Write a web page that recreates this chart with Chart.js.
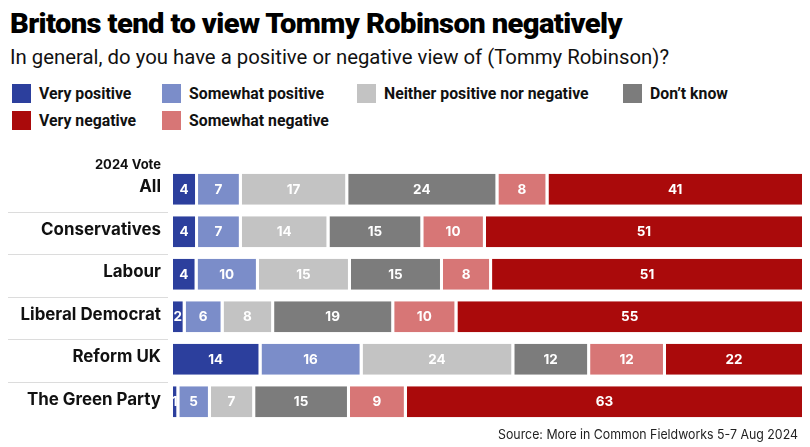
<!DOCTYPE html>
<html>
<head>
<meta charset="utf-8">
<script src="https://cdn.jsdelivr.net/npm/chart.js@4/dist/chart.umd.min.js"></script>
<style>
  html, body { margin: 0; padding: 0; background: #fff; }
  #wrap { position: relative; width: 810px; height: 447px; overflow: hidden; font-family: Roboto, "Noto Sans", sans-serif; }
  #title { position: absolute; left: 10px; top: 7px; font-family: Roboto, sans-serif; font-weight: 900; font-size: 28px; color: #000; white-space: nowrap; transform-origin: 0 0; letter-spacing: -0.6px; }
  #subtitle { position: absolute; left: 10px; top: 45px; font-family: Roboto, sans-serif; font-weight: 400; font-size: 20px; color: #111; white-space: nowrap; transform-origin: 0 0; }
  #legend { position: absolute; left: 0; top: 0; width: 810px; height: 140px; }
  .lg { position: absolute; display: flex; align-items: center; font-family: Roboto, sans-serif; font-weight: 700; font-size: 15.8px; color: #111; white-space: nowrap; }
  .lg span.box { display: inline-block; width: 19px; height: 19px; margin-right: 8px; }
  #source { position: absolute; left: 498px; top: 426px; font-family: Inter, sans-serif; font-size: 13px; color: #222; white-space: nowrap; transform-origin: 0 0; }
  canvas { position: absolute; left: 0; top: 0; }
</style>
</head>
<body>
<div id="wrap">
  <div id="title">Britons tend to view Tommy Robinson negatively</div>
  <div id="subtitle">In general, do you have a positive or negative view of (Tommy Robinson)?</div>
  <div id="legend"></div>
  <canvas id="c" width="810" height="447"></canvas>
  <div id="source">Source: More in Common Fieldworks 5-7 Aug 2024</div>
</div>
<script>
// ---- Data ----
const categories = ['All', 'Conservatives', 'Labour', 'Liberal Democrat', 'Reform UK', 'The Green Party'];
const veryPositive     = [4, 4, 4, 2, 14, 1];
const somewhatPositive = [7, 7, 10, 6, 16, 5];
const neither          = [17, 14, 15, 8, 24, 7];
const dontKnow         = [24, 15, 15, 19, 12, 15];
const somewhatNegative = [8, 10, 8, 10, 12, 9];
const veryNegative     = [41, 51, 51, 55, 22, 63];
const axisHeader = '2024 Vote';

const seriesNames  = ['Very positive', 'Somewhat positive', 'Neither positive nor negative', "Don\u2019t know", 'Somewhat negative', 'Very negative'];
const seriesValues = [veryPositive, somewhatPositive, neither, dontKnow, somewhatNegative, veryNegative];
const seriesColors = ['#2c3f9d', '#7b8dc9', '#c3c3c3', '#7c7c7c', '#d77676', '#aa0a0b'];
const legendOrder  = [0, 1, 2, 3, 5, 4];

// each row is drawn as shares of its own total (bars all span the full width)
const rowTotals = categories.map((_, i) => seriesValues.reduce((s, arr) => s + arr[i], 0));

const datasets = seriesValues.map((vals, k) => ({
  label: seriesNames[k],
  data: vals.map((v, i) => v / rowTotals[i] * 100),
  raw: vals,
  backgroundColor: seriesColors[k],
  borderColor: '#ffffff',
  borderWidth: { left: 0, right: 3, top: 0, bottom: 0 },
  borderSkipped: false,
  barPercentage: 0.735,
  categoryPercentage: 1.0
}));

// ---- legend (HTML, from datasets) ----
const legendPos = [[12, 84], [162, 84], [357, 84], [623, 84], [12, 111], [162, 111]];
const lg = document.getElementById('legend');
legendOrder.forEach((k, j) => {
  const d = document.createElement('div');
  d.className = 'lg';
  d.style.left = legendPos[j][0] + 'px';
  d.style.top = legendPos[j][1] + 'px';
  d.innerHTML = '<span class="box" style="background:' + seriesColors[k] + '"></span>' + seriesNames[k];
  lg.appendChild(d);
});

// fit text widths
function fitWidth(el, w) {
  const cur = el.getBoundingClientRect().width;
  el.style.transform = 'scaleX(' + (w / cur) + ')';
}
fitWidth(document.getElementById('title'), 612);
fitWidth(document.getElementById('subtitle'), 659);
fitWidth(document.getElementById('source'), 300);

// ---- plugins ----
const valueLabels = {
  id: 'valueLabels',
  afterDatasetsDraw(chart) {
    const ctx = chart.ctx;
    ctx.save();
    ctx.font = '700 13.5px Inter, sans-serif';
    ctx.fillStyle = '#ffffff';
    ctx.textAlign = 'center';
    ctx.textBaseline = 'middle';
    chart.data.datasets.forEach((ds, di) => {
      const meta = chart.getDatasetMeta(di);
      meta.data.forEach((bar, i) => {
        const left = Math.min(bar.x, bar.base);
        const right = Math.max(bar.x, bar.base) - 3;
        ctx.fillText(String(ds.raw[i]), (left + right) / 2, bar.y + 0.5);
      });
    });
    ctx.restore();
  }
};

const rowDecor = {
  id: 'rowDecor',
  afterDraw(chart) {
    const ctx = chart.ctx;
    const y = chart.scales.y;
    ctx.save();
    ctx.strokeStyle = '#dcdcdc';
    ctx.lineWidth = 1;
    for (let i = 0; i < categories.length - 1; i++) {
      const yy = Math.round((y.getPixelForValue(i) + y.getPixelForValue(i + 1)) / 2 + 1) + 0.5;
      ctx.beginPath();
      ctx.moveTo(8, yy);
      ctx.lineTo(168, yy);
      ctx.stroke();
    }
    ctx.font = '700 13px Inter, sans-serif';
    ctx.fillStyle = '#111';
    ctx.textAlign = 'right';
    ctx.textBaseline = 'middle';
    ctx.fillText(axisHeader, 161, y.getPixelForValue(0) - 24);
    ctx.restore();
  }
};

new Chart(document.getElementById('c'), {
  type: 'bar',
  data: { labels: categories, datasets },
  options: {
    indexAxis: 'y',
    responsive: false,
    animation: false,
    layout: { padding: { top: 168, bottom: 24, left: 0, right: 5 } },
    plugins: { legend: { display: false }, tooltip: { enabled: false }, title: { display: false } },
    scales: {
      x: { stacked: true, min: 0, max: 100, display: false },
      y: {
        stacked: true,
        grid: { display: false, drawTicks: false },
        border: { display: false },
        ticks: { color: '#111', font: { family: 'Inter, sans-serif', size: 16.9, weight: '700' }, padding: 12, labelOffset: -2 },
        afterFit(scale) { scale.width = 173; }
      }
    }
  },
  plugins: [valueLabels, rowDecor]
});
</script>
</body>
</html>
